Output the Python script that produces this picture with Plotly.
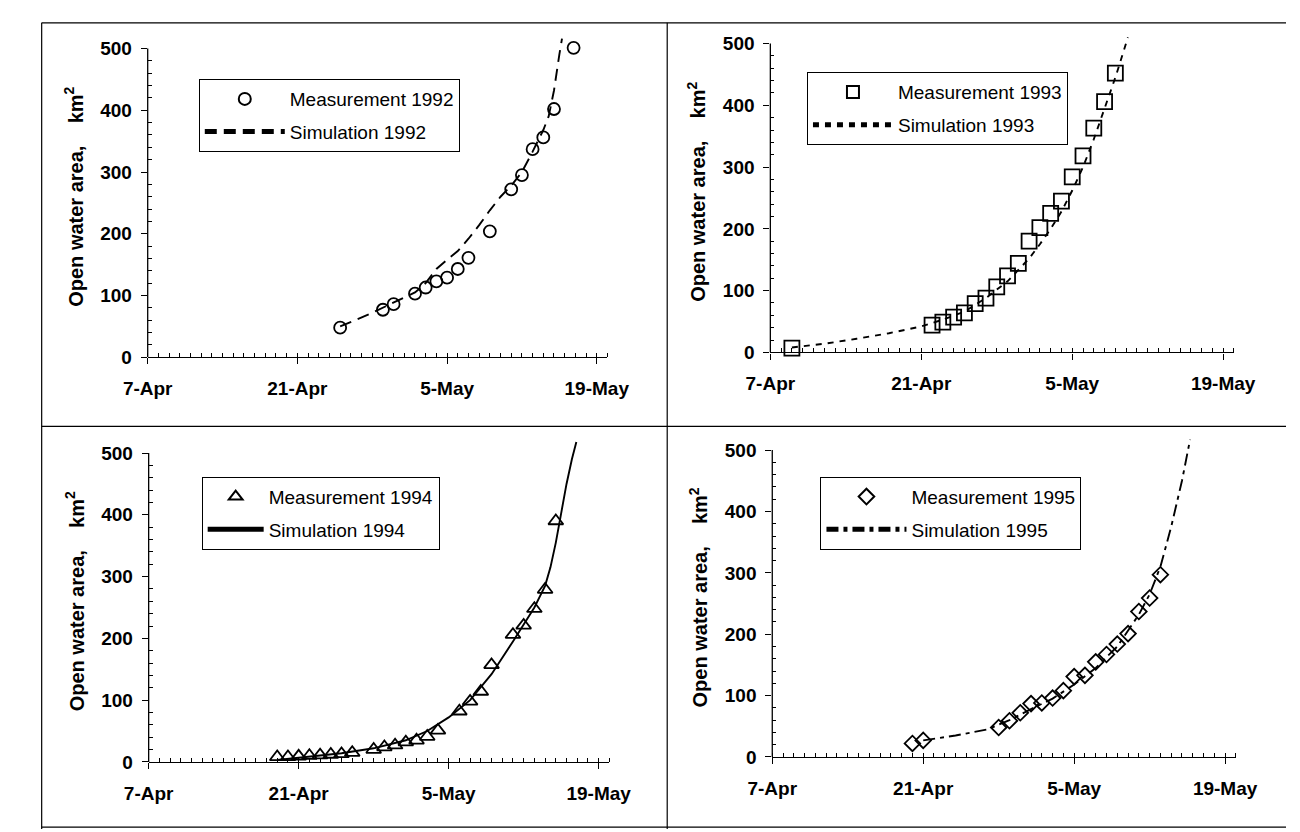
import plotly.graph_objects as go

# ---------------- data ----------------
tick_md = ["04-07", "04-21", "05-05", "05-19"]
tick_labels = ["7-Apr", "21-Apr", "5-May", "19-May"]
y_ticks = [0, 100, 200, 300, 400, 500]
y_title = "Open water area,&nbsp;&nbsp;&nbsp;&nbsp;km<sup>2</sup>"

# 1992
meas92_dates = ["1992-04-25", "1992-04-29", "1992-04-30", "1992-05-02", "1992-05-03",
                "1992-05-04", "1992-05-05", "1992-05-06", "1992-05-07", "1992-05-09",
                "1992-05-11", "1992-05-12", "1992-05-13", "1992-05-14", "1992-05-15",
                "1992-05-16 20:00"]
meas92_vals = [48, 77, 86, 103, 113, 123, 129, 143, 161, 204, 272, 295, 337, 356, 402, 501]
sim92_dates = ["1992-04-25", "1992-04-28", "1992-05-01", "1992-05-02", "1992-05-03",
               "1992-05-04", "1992-05-05", "1992-05-06", "1992-05-07", "1992-05-08",
               "1992-05-09", "1992-05-10", "1992-05-11", "1992-05-12", "1992-05-13",
               "1992-05-14", "1992-05-14 12:00", "1992-05-15", "1992-05-15 12:00",
               "1992-05-15 18:00"]
sim92_vals = [50, 72, 97, 105, 120, 143, 158, 172, 192, 214, 238, 260, 278, 300, 333,
              368, 390, 432, 490, 516]

# 1993
meas93_dates = ["1993-04-09", "1993-04-22", "1993-04-23", "1993-04-24", "1993-04-25",
                "1993-04-26", "1993-04-27", "1993-04-28", "1993-04-29", "1993-04-30",
                "1993-05-01", "1993-05-02", "1993-05-03", "1993-05-04", "1993-05-05",
                "1993-05-06", "1993-05-07", "1993-05-08", "1993-05-09"]
meas93_vals = [7, 44, 49, 57, 64, 79, 88, 106, 124, 144, 180, 202, 225, 245, 284, 318,
               363, 406, 452]
sim93_dates = ["1993-04-09", "1993-04-12", "1993-04-15", "1993-04-18", "1993-04-21",
               "1993-04-23", "1993-04-25", "1993-04-27", "1993-04-29", "1993-05-01",
               "1993-05-02", "1993-05-03", "1993-05-04", "1993-05-05", "1993-05-06",
               "1993-05-07", "1993-05-08", "1993-05-09", "1993-05-10 04:00"]
sim93_vals = [8, 14, 22, 31, 42, 53, 66, 88, 115, 152, 175, 200, 228, 262, 300, 345,
              395, 445, 510]

# 1994
meas94_dates = ["1994-04-19", "1994-04-20", "1994-04-21", "1994-04-22", "1994-04-23",
                "1994-04-24", "1994-04-25", "1994-04-26", "1994-04-28", "1994-04-29",
                "1994-04-30", "1994-05-01", "1994-05-02", "1994-05-03", "1994-05-04",
                "1994-05-06", "1994-05-07", "1994-05-08", "1994-05-09", "1994-05-11",
                "1994-05-12", "1994-05-13", "1994-05-14", "1994-05-15"]
meas94_vals = [8, 8, 9, 10, 11, 12, 13, 15, 20, 24, 27, 32, 35, 41, 51, 82, 98, 114,
               157, 206, 221, 248, 279, 390]
sim94_dates = ["1994-04-19", "1994-04-22", "1994-04-25", "1994-04-28", "1994-05-01",
               "1994-05-03", "1994-05-05", "1994-05-07", "1994-05-09", "1994-05-11",
               "1994-05-12", "1994-05-13", "1994-05-14", "1994-05-14 12:00",
               "1994-05-15", "1994-05-15 12:00", "1994-05-16", "1994-05-16 12:00",
               "1994-05-16 22:00"]
sim94_vals = [3, 8, 14, 22, 35, 50, 72, 100, 142, 195, 222, 250, 285, 315, 355, 405,
              450, 490, 518]

# 1995
meas95_dates = ["1995-04-20", "1995-04-21", "1995-04-28", "1995-04-29", "1995-04-30",
                "1995-05-01", "1995-05-02", "1995-05-03", "1995-05-04", "1995-05-05",
                "1995-05-06", "1995-05-07", "1995-05-08", "1995-05-09", "1995-05-10",
                "1995-05-11", "1995-05-12", "1995-05-13"]
meas95_vals = [22, 27, 48, 59, 72, 87, 88, 96, 108, 131, 133, 155, 167, 184, 201, 237,
               259, 297]
sim95_dates = ["1995-04-21", "1995-04-24", "1995-04-27", "1995-04-29", "1995-05-01",
               "1995-05-03", "1995-05-05", "1995-05-07", "1995-05-09", "1995-05-10",
               "1995-05-11", "1995-05-12", "1995-05-13", "1995-05-14", "1995-05-15",
               "1995-05-15 18:00"]
sim95_vals = [27, 35, 45, 60, 78, 95, 118, 145, 180, 205, 232, 265, 310, 375, 450, 517]

panels = [
    dict(year=1992, md=meas92_dates, mv=meas92_vals, sd=sim92_dates, sv=sim92_vals,
         symbol="circle-open", msize=12, dash="12px,7px"),
    dict(year=1993, md=meas93_dates, mv=meas93_vals, sd=sim93_dates, sv=sim93_vals,
         symbol="square-open", msize=15, dash="6px,6px"),
    dict(year=1994, md=meas94_dates, mv=meas94_vals, sd=sim94_dates, sv=sim94_vals,
         symbol="triangle-up-open", msize=13, dash="solid"),
    dict(year=1995, md=meas95_dates, mv=meas95_vals, sd=sim95_dates, sv=sim95_vals,
         symbol="diamond-open", msize=12, dash="12px,5px,4px,5px"),
]

# ---------------- layout geometry (pixels) ----------------
W, H = 1300, 832
# x0, x1, ytop(px of y=520), ybottom(px of y=0)
geom = [(119, 596, 28.5, 354), (765, 1246, 23.5, 349),
        (120, 598, 438.5, 764), (767, 1248, 435.6, 759)]
# legend box top-left and symbol width
leg_pos = [(172, 72), (803, 65), (175, 475), (817, 475)]
leg_itemw = [80, 80, 56, 80]

FONT = "Liberation Sans, Arial, sans-serif"
fig = go.Figure()
shapes = []
layout = dict(width=W, height=H, margin=dict(l=0, r=0, t=0, b=0),
              paper_bgcolor="white", plot_bgcolor="white", showlegend=True,
              font=dict(family=FONT, color="black"))

for i, p in enumerate(panels):
    n = i + 1
    xa = "x" if n == 1 else f"x{n}"
    ya = "y" if n == 1 else f"y{n}"
    leg = "legend" if n == 1 else f"legend{n}"
    yr = p["year"]
    fig.add_trace(go.Scatter(
        x=p["md"], y=p["mv"], mode="markers", name=f"Measurement {yr}",
        marker=dict(symbol=p["symbol"], size=p["msize"], color="black",
                    line=dict(width=1.8, color="black")),
        cliponaxis=False, xaxis=xa, yaxis=ya, legend=leg, legendgroup=f"m{yr}"))
    fig.add_trace(go.Scatter(
        x=p["sd"], y=p["sv"], mode="lines", name=f"Simulation {yr}",
        line=dict(color="black", width=1.9, dash=p["dash"]),
        xaxis=xa, yaxis=ya, legend=leg, legendgroup=f"s{yr}"))

    x0, x1, yt, yb = geom[i]
    ticks_x = [f"{yr}-{md}" for md in tick_md]
    layout["xaxis" if n == 1 else f"xaxis{n}"] = dict(
        domain=[x0 / W, x1 / W], anchor=ya, type="date",
        range=[f"{yr}-04-07", f"{yr}-05-20"],
        tickmode="array", tickvals=ticks_x, ticktext=tick_labels,
        ticks="outside", ticklen=6, tickwidth=1.3, tickcolor="black",
        showline=True, linecolor="black", linewidth=1.3,
        showgrid=False, zeroline=False, ticklabelstandoff=8,
        tickfont=dict(family=FONT, size=19, color="black", weight="bold"),
        minor=dict(ticks="inside", ticklen=4, tickwidth=1, tickcolor="black",
                   dtick=86400000, tick0=f"{yr}-04-07", showgrid=False))
    layout["yaxis" if n == 1 else f"yaxis{n}"] = dict(
        domain=[1 - yb / H, 1 - yt / H], anchor=xa, range=[0, 520],
        tickmode="array", tickvals=y_ticks,
        ticks="outside", ticklen=6, tickwidth=1.3, tickcolor="black",
        showline=False, showgrid=False, zeroline=False, ticklabelstandoff=5,
        tickfont=dict(family=FONT, size=19, color="black", weight="bold"),
        title=dict(text=y_title, standoff=11,
                   font=dict(family=FONT, size=20, color="black", weight="bold")),
        minor=dict(ticks="inside", ticklen=4, tickwidth=1, tickcolor="black",
                   tickvals=[v for v in range(20, 500, 20) if v % 100], showgrid=False))
    # y axis line from 0 to 500
    shapes.append(dict(type="line", xref=f"{xa} domain", yref=ya, x0=0, x1=0,
                       y0=0, y1=500, line=dict(color="black", width=1.3)))
    lx, ly = leg_pos[i]
    layout[leg] = dict(x=lx / W, y=1 - ly / H, xanchor="left", yanchor="top",
                       bgcolor="white", bordercolor="black", borderwidth=1,
                       font=dict(family=FONT, size=19, color="black"),
                       itemwidth=leg_itemw[i], itemsizing="constant",
                       traceorder="grouped", tracegroupgap=5)

# panel frame lines
frame = [(9, 15, 9, 832), (9, 15, 1300, 15), (658, 15, 658, 832),
         (9, 424, 1300, 424), (9, 830, 1300, 830)]
for (a, b, c, d) in frame:
    shapes.append(dict(type="line", xref="paper", yref="paper",
                       x0=a / W, x1=c / W, y0=1 - b / H, y1=1 - d / H,
                       line=dict(color="black", width=1.2)))
layout["shapes"] = shapes
fig.update_layout(**layout)
fig.write_html("out.html")
